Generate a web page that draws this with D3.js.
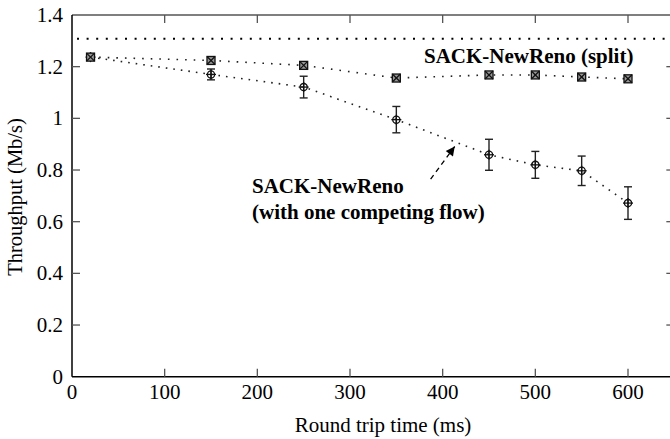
<!DOCTYPE html>
<html>
<head>
<meta charset="utf-8">
<script src="https://cdn.jsdelivr.net/npm/d3@7"></script>
<style>
    body { margin: 0; background: #fff; }
</style>
</head>
<body>
<div id="chart"></div>
<script>
const rtt = [20, 150, 250, 350, 450, 500, 550, 600];
const splitThroughput = [1.237, 1.224, 1.205, 1.156, 1.168, 1.168, 1.160, 1.153];
const splitErr = [0.005, 0.010, 0.008, 0.012, 0.010, 0.008, 0.006, 0.006];
const competingThroughput = [1.237, 1.170, 1.121, 0.995, 0.859, 0.820, 0.797, 0.672];
const competingErr = [0.008, 0.021, 0.042, 0.051, 0.060, 0.052, 0.057, 0.063];
const ceiling = 1.308;
const xTicks = [0, 100, 200, 300, 400, 500, 600];
const yTicks = [0, 0.2, 0.4, 0.6, 0.8, 1, 1.2, 1.4];
const arrowFrom = [387, 0.765];
const arrowTo = [413, 0.891];

const W = 670, H = 439;
const plotLeft = 72, plotTop = 15, plotBottom = 376.7;
const serif = "'Liberation Serif', 'Times New Roman', Times, 'DejaVu Serif', serif";

const x = d3.scaleLinear().domain([0, 650]).range([plotLeft, plotLeft + 650 * 556 / 600]);
const y = d3.scaleLinear().domain([0, 1.4]).range([plotBottom, plotTop]);

const svg = d3.select("#chart").append("svg")
    .attr("width", W)
    .attr("height", H)
    .attr("font-family", serif)
    .style("font-family", serif);

const defs = svg.append("defs");
defs.append("marker")
    .attr("id", "head")
    .attr("viewBox", "0 0 10 10")
    .attr("refX", 10).attr("refY", 5)
    .attr("markerWidth", 14).attr("markerHeight", 9)
    .attr("markerUnits", "userSpaceOnUse")
    .attr("orient", "auto")
    .append("path")
    .attr("d", "M0,0 L10,5 L0,10 z")
    .attr("fill", "#000");

// frame
svg.append("line").attr("x1", x(0)).attr("x2", x(650)).attr("y1", y(1.4)).attr("y2", y(1.4))
    .attr("stroke", "#555").attr("stroke-width", 1.5);
svg.append("line").attr("x1", x(0)).attr("x2", x(650)).attr("y1", y(0)).attr("y2", y(0))
    .attr("stroke", "#000").attr("stroke-width", 1.5);
svg.append("line").attr("x1", x(0)).attr("x2", x(0)).attr("y1", y(0)).attr("y2", y(1.4))
    .attr("stroke", "#000").attr("stroke-width", 1.5);
svg.append("line").attr("x1", x(650)).attr("x2", x(650)).attr("y1", y(0)).attr("y2", y(1.4))
    .attr("stroke", "#000").attr("stroke-width", 1.5);

// ticks
const tickLen = 8;
xTicks.filter(d => d > 0).forEach(d => {
    svg.append("line").attr("x1", x(d)).attr("x2", x(d)).attr("y1", y(0)).attr("y2", y(0) - tickLen)
        .attr("stroke", "#555").attr("stroke-width", 1.3);
    svg.append("line").attr("x1", x(d)).attr("x2", x(d)).attr("y1", y(1.4)).attr("y2", y(1.4) + tickLen)
        .attr("stroke", "#555").attr("stroke-width", 1.3);
});
yTicks.filter(d => d > 0 && d < 1.4).forEach(d => {
    svg.append("line").attr("x1", x(0)).attr("x2", x(0) + tickLen).attr("y1", y(d)).attr("y2", y(d))
        .attr("stroke", "#555").attr("stroke-width", 1.3);
    svg.append("line").attr("x1", x(650)).attr("x2", x(650) - tickLen).attr("y1", y(d)).attr("y2", y(d))
        .attr("stroke", "#555").attr("stroke-width", 1.3);
});

// tick labels
svg.selectAll(".xl").data(xTicks).join("text")
    .attr("x", d => x(d)).attr("y", 399)
    .attr("text-anchor", "middle").attr("font-size", 21)
    .text(d => d);
svg.selectAll(".yl").data(yTicks).join("text")
    .attr("x", 63).attr("y", d => y(d) + 7)
    .attr("text-anchor", "end").attr("font-size", 21)
    .text(d => d);

// axis titles
svg.append("text")
    .attr("x", 383).attr("y", 432)
    .attr("text-anchor", "middle").attr("font-size", 21)
    .text("Round trip time (ms)");
svg.append("text")
    .attr("transform", "translate(22,197) rotate(-90)")
    .attr("text-anchor", "middle").attr("font-size", 20.5)
    .text("Throughput (Mb/s)");

// ceiling line
svg.append("line")
    .attr("x1", x(0) + 5).attr("x2", x(650)).attr("y1", y(ceiling)).attr("y2", y(ceiling))
    .attr("stroke", "#000").attr("stroke-width", 2)
    .attr("stroke-dasharray", "2,7.6");

const line = d3.line().x(d => x(d[0])).y(d => y(d[1]));

// series lines
svg.append("path")
    .datum(rtt.map((d, i) => [d, splitThroughput[i]]))
    .attr("d", line).attr("fill", "none")
    .attr("stroke", "#222").attr("stroke-width", 1.6)
    .attr("stroke-dasharray", "1.6,7");
svg.append("path")
    .datum(rtt.map((d, i) => [d, competingThroughput[i]]))
    .attr("d", line).attr("fill", "none")
    .attr("stroke", "#222").attr("stroke-width", 1.6)
    .attr("stroke-dasharray", "1.6,6");

// error bars
function errorBars(vals, errs) {
    const g = svg.append("g").attr("stroke", "#222").attr("stroke-width", 1.4);
    rtt.forEach((d, i) => {
        const cx = x(d), y0 = y(vals[i] - errs[i]), y1 = y(vals[i] + errs[i]);
        g.append("line").attr("x1", cx).attr("x2", cx).attr("y1", y0).attr("y2", y1);
        g.append("line").attr("x1", cx - 4).attr("x2", cx + 4).attr("y1", y0).attr("y2", y0);
        g.append("line").attr("x1", cx - 4).attr("x2", cx + 4).attr("y1", y1).attr("y2", y1);
    });
}
errorBars(competingThroughput, competingErr);
errorBars(splitThroughput, splitErr);

// circle-plus markers
const cp = svg.append("g").attr("stroke", "#111").attr("stroke-width", 1.3).attr("fill", "none");
rtt.forEach((d, i) => {
    const cx = x(d), cy = y(competingThroughput[i]);
    cp.append("circle").attr("cx", cx).attr("cy", cy).attr("r", 3.6);
    cp.append("line").attr("x1", cx - 5).attr("x2", cx + 5).attr("y1", cy).attr("y2", cy);
    cp.append("line").attr("x1", cx).attr("x2", cx).attr("y1", cy - 5).attr("y2", cy + 5);
});

// boxed-x markers
const bx = svg.append("g").attr("stroke", "#111").attr("stroke-width", 1.3);
rtt.forEach((d, i) => {
    const cx = x(d), cy = y(splitThroughput[i]), s = 4;
    bx.append("rect").attr("x", cx - s).attr("y", cy - s).attr("width", 2 * s).attr("height", 2 * s)
        .attr("fill", "#999");
    bx.append("line").attr("x1", cx - s).attr("x2", cx + s).attr("y1", cy - s).attr("y2", cy + s);
    bx.append("line").attr("x1", cx - s).attr("x2", cx + s).attr("y1", cy + s).attr("y2", cy - s);
});

// labels
svg.append("text")
    .attr("x", 424).attr("y", 63)
    .attr("font-size", 21).attr("font-weight", "bold")
    .text("SACK-NewReno (split)");
svg.append("text")
    .attr("x", 252).attr("y", 193)
    .attr("font-size", 21).attr("font-weight", "bold")
    .text("SACK-NewReno");
svg.append("text")
    .attr("x", 252).attr("y", 219)
    .attr("font-size", 21).attr("font-weight", "bold")
    .text("(with one competing flow)");

// arrow
svg.append("line")
    .attr("x1", x(arrowFrom[0])).attr("y1", y(arrowFrom[1]))
    .attr("x2", x(arrowTo[0])).attr("y2", y(arrowTo[1]))
    .attr("stroke", "#000").attr("stroke-width", 1.3)
    .attr("stroke-dasharray", "5,4")
    .attr("marker-end", "url(#head)");
</script>
</body>
</html>
